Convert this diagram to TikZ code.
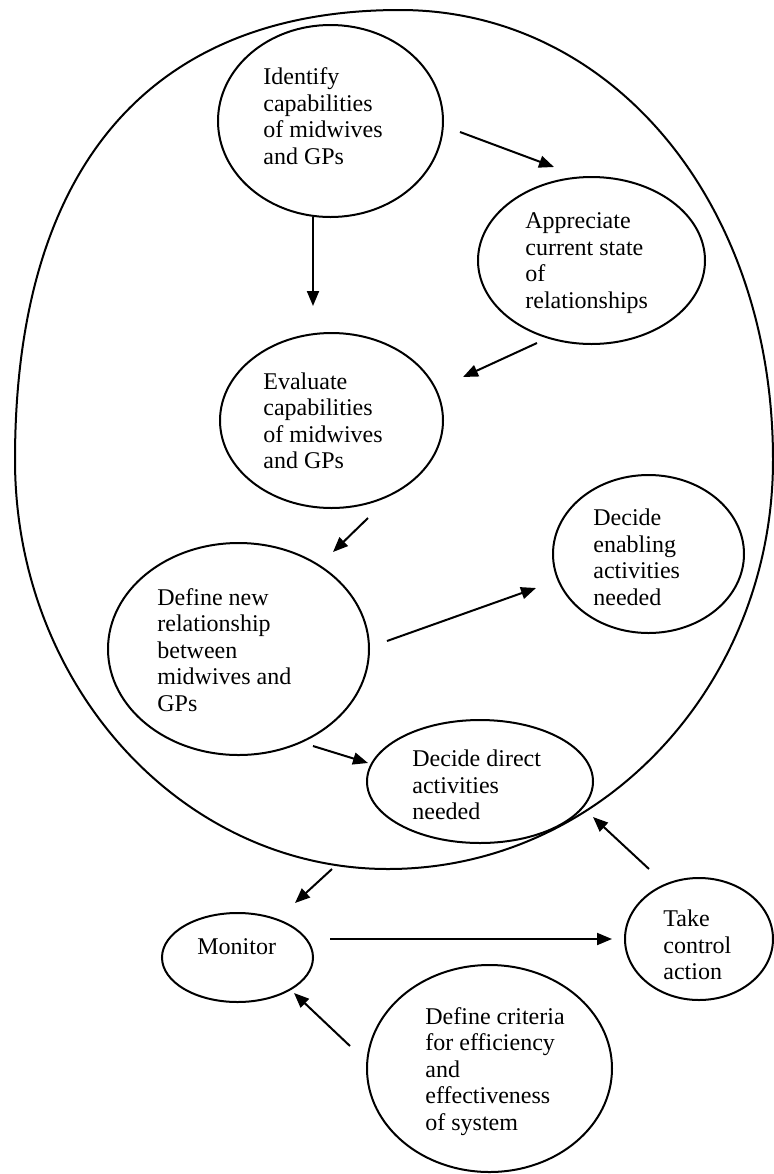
\documentclass[tikz,border=0pt]{standalone}
\usepackage{fontspec}
\setmainfont{Liberation Serif}
\usetikzlibrary{arrows.meta,shapes.geometric}
\begin{document}
\begin{tikzpicture}[x=0.5pt,y=-0.5pt,
  bub/.style={draw, ellipse, line width=1pt, inner sep=0pt},
  lbl/.style={anchor=west, align=left, inner sep=0pt, font=\fontsize{12}{13.25}\selectfont},
  flow/.style={-{Triangle[length=7.5pt,width=6pt]}, line width=1pt}]
\useasboundingbox (0,0) rectangle (774,1174);

% outer boundary of the system (slightly egg-shaped, fuller at the upper left)
\draw[line width=1pt]
  (15,460) .. controls (15,167.5) and (149.75,10) .. (400,10)
           .. controls (612.6,10) and (773,203.5) .. (773,460)
           .. controls (773,685.9) and (600.6,869) .. (388,869)
           .. controls (182,869) and (15,685.9) .. (15,460) -- cycle;

% activity bubbles
\node[bub, minimum width=112.5pt, minimum height=96pt]   (ident)    at (330.5,121)  {};
\node[bub, minimum width=113.5pt, minimum height=83.5pt] (appr)     at (591.5,260.5) {};
\node[bub, minimum width=111.5pt, minimum height=87.5pt] (eval)     at (331.5,420.5) {};
\node[bub, minimum width=130.5pt, minimum height=106pt]  (defrel)   at (238.5,649)  {};
\node[bub, minimum width=95.5pt,  minimum height=79pt]   (enab)     at (648.5,554)  {};
\node[bub, minimum width=113pt,   minimum height=61.5pt] (direct)   at (480,781.5)  {};
\node[bub, minimum width=75.5pt,  minimum height=44.5pt] (monitor)  at (237.5,957.5) {};
\node[bub, minimum width=74pt,    minimum height=61pt]   (control)  at (699,939)    {};
\node[bub, minimum width=122.5pt, minimum height=103.5pt](criteria) at (489.5,1068.5) {};

% bubble texts
\node[lbl] (ident-t)    at (263,116)    {Identify\\capabilities\\of midwives\\and GPs};
\node[lbl] (appr-t)     at (525,263)    {Appreciate\\current state\\of\\relationships};
\node[lbl] (eval-t)     at (263,421)    {Evaluate\\capabilities\\of midwives\\and GPs};
\node[lbl] (defrel-t)   at (157,650)    {Define new\\relationship\\between\\midwives and\\GPs};
\node[lbl] (enab-t)     at (593,557.5)  {Decide\\enabling\\activities\\needed};
\node[lbl] (direct-t)   at (412,785)    {Decide direct\\activities\\needed};
\node[lbl] (monitor-t)  at (197,947)    {Monitor};
\node[lbl] (control-t)  at (663,945)    {Take\\control\\action};
\node[lbl] (criteria-t) at (425,1071.5) {Define criteria\\for efficiency\\and\\effectiveness\\of system};

% arrow end points
\coordinate (a1s) at (460,132);  \coordinate (a1e) at (554,167);
\coordinate (a2s) at (313,217);  \coordinate (a2e) at (313,306);
\coordinate (a3s) at (537,343);  \coordinate (a3e) at (463,377);
\coordinate (a4s) at (368,518);  \coordinate (a4e) at (333,552);
\coordinate (a5s) at (387,641);  \coordinate (a5e) at (536,588);
\coordinate (a6s) at (313,746);  \coordinate (a6e) at (368,763);
\coordinate (a7s) at (332,869);  \coordinate (a7e) at (295,903);
\coordinate (a8s) at (330,939);  \coordinate (a8e) at (612,939);
\coordinate (a9s) at (649,869);  \coordinate (a9e) at (593,817);
\coordinate (a10s) at (350,1046); \coordinate (a10e) at (294,993);

\draw[flow] (a1s) -- (a1e);
\draw[flow] (a2s) -- (a2e);
\draw[flow] (a3s) -- (a3e);
\draw[flow] (a4s) -- (a4e);
\draw[flow] (a5s) -- (a5e);
\draw[flow] (a6s) -- (a6e);
\draw[flow] (a7s) -- (a7e);
\draw[flow] (a8s) -- (a8e);
\draw[flow] (a9s) -- (a9e);
\draw[flow] (a10s) -- (a10e);
\end{tikzpicture}
\end{document}
